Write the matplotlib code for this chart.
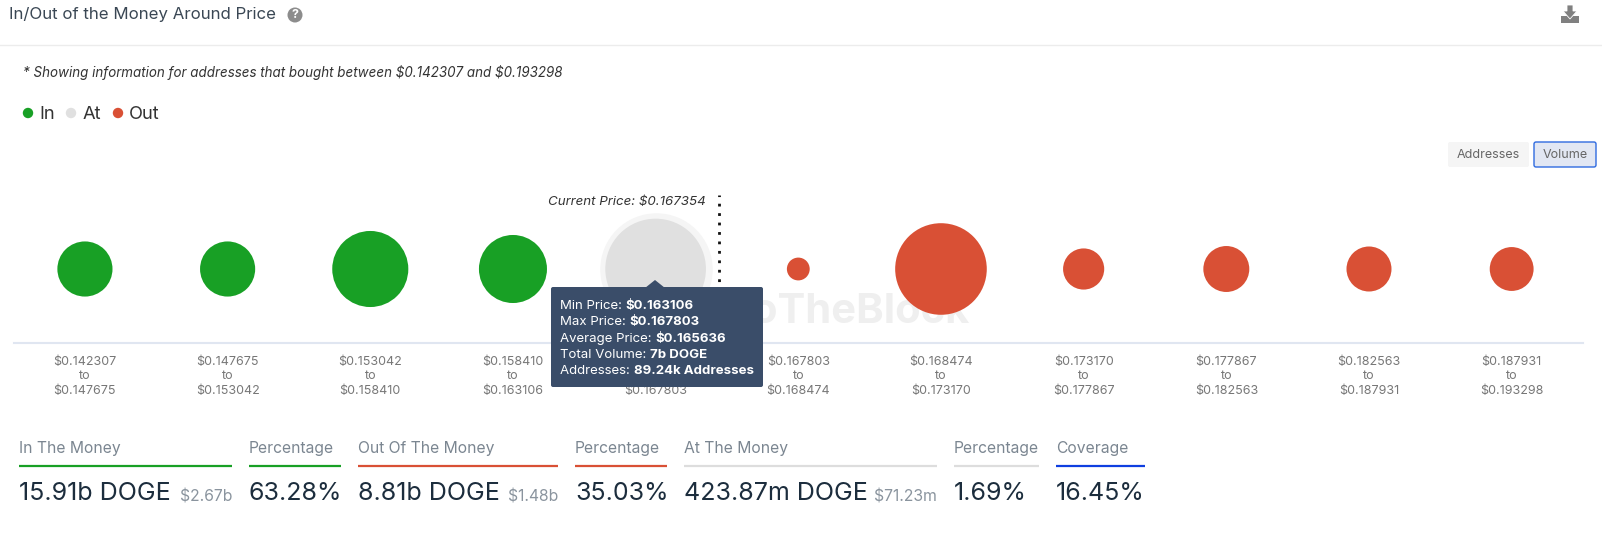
import matplotlib
matplotlib.use('Agg')
import matplotlib.pyplot as plt
from matplotlib.patches import Rectangle, FancyBboxPatch, Polygon, Circle

plt.rcParams['font.family'] = ['Inter', 'DejaVu Sans']

# bubble data, volume in billions of DOGE
low_prices = ['$0.142307', '$0.147675', '$0.153042', '$0.158410', '$0.163106', '$0.167803',
              '$0.168474', '$0.173170', '$0.177867', '$0.182563', '$0.187931']
high_prices = ['$0.147675', '$0.153042', '$0.158410', '$0.163106', '$0.167803', '$0.168474',
               '$0.173170', '$0.177867', '$0.182563', '$0.187931', '$0.193298']
volumes = [2.1, 2.1, 4.0, 3.2, 7.0, 0.36, 5.8, 1.17, 1.46, 1.4, 1.33]
states = ['in', 'in', 'in', 'in', 'at', 'out', 'out', 'out', 'out', 'out', 'out']
current_price_pos = 4.445

state_colors = {'in': '#18a025', 'at': '#e0e0e0', 'out': '#d95035'}

# summary row
summary_labels = ['In The Money', 'Percentage', 'Out Of The Money', 'Percentage',
                  'At The Money', 'Percentage', 'Coverage']
summary_values = ['15.91b DOGE', '63.28%', '8.81b DOGE', '35.03%', '423.87m DOGE', '1.69%', '16.45%']
summary_usd = ['$2.67b', '', '$1.48b', '', '$71.23m', '', '']
summary_colors = ['#18a025', '#18a025', '#d95035', '#d95035', '#dddddd', '#dddddd', '#0f3fe0']
summary_x0 = [19, 249, 358, 575, 684, 954, 1056]
summary_x1 = [232, 341, 558, 667, 937, 1039, 1145]

tooltip_rows = [('Min Price: ', '$0.163106'), ('Max Price: ', '$0.167803'),
                ('Average Price: ', '$0.165636'), ('Total Volume: ', '7b DOGE'),
                ('Addresses: ', '89.24k Addresses')]


def esc(s):
    # plain dollars, not mathtext
    return s.replace('$', r'\$')


W, H = 1602, 535
fig = plt.figure(figsize=(W / 100, H / 100), dpi=100)

# page layer in pixel coordinates
page = fig.add_axes([0, 0, 1, 1], zorder=1)
page.set_xlim(0, W)
page.set_ylim(H, 0)
page.axis('off')
page.patch.set_alpha(0)

# header
page.text(9, 15, 'In/Out of the Money Around Price', fontsize=12.1, color='#3a4754', va='center')
page.add_patch(Circle((295, 15), 7.5, color='#8c8c8c', lw=0))
page.text(295, 15.5, '?', fontsize=9, color='white', weight='bold', ha='center', va='center')
page.plot([0, W], [45, 45], color='#ececec', lw=1)

# download icon
page.add_patch(Rectangle((1561, 16), 18, 7, color='#808080', lw=0))
page.add_patch(Polygon([(1567, 5), (1573, 5), (1573, 11), (1577, 11), (1570, 19), (1563, 11), (1567, 11)],
                       color='#808080', ec='white', lw=0.6))

page.text(23, 72, esc('* Showing information for addresses that bought between $0.142307 and $0.193298'),
          fontsize=9.64, style='italic', color='#333333', va='center')

# legend
for lx, tx, lab, st in [(28, 39, 'In', 'in'), (71, 83, 'At', 'at'), (118, 129, 'Out', 'out')]:
    page.add_patch(Circle((lx, 113), 5.2, color=state_colors[st], lw=0))
    page.text(tx, 114.5, lab, fontsize=13.2, color='#333333', va='center')

# toggle buttons
page.add_patch(FancyBboxPatch((1448, 142), 81, 25, boxstyle='round,pad=0,rounding_size=2', fc='#f5f5f5', ec='none'))
page.text(1488.5, 155, 'Addresses', fontsize=9, color='#666666', ha='center', va='center')
page.add_patch(FancyBboxPatch((1534, 142), 62, 25, boxstyle='round,pad=0,rounding_size=2', fc='#e2e7f3', ec='#2f6be0', lw=1))
page.text(1565, 155, 'Volume', fontsize=9, color='#666666', ha='center', va='center')

# bubble chart
ax = fig.add_axes([13.6 / W, 1 - 343 / H, (1583 - 13.6) / W, (343 - 195) / H], zorder=0)
ax.set_xlim(-0.5, 10.5)
ax.set_ylim(0, 1)
for side in ['top', 'left', 'right']:
    ax.spines[side].set_visible(False)
ax.spines['bottom'].set_color('#e0e6f1')
ax.spines['bottom'].set_linewidth(1.5)
ax.set_yticks([])
ax.set_xticks(range(len(low_prices)))
ax.set_xticklabels([esc(a + '\nto\n' + b) for a, b in zip(low_prices, high_prices)],
                   fontsize=9, color='#777777', linespacing=1.32)
ax.tick_params(axis='x', length=0, pad=9)

xs = list(range(len(volumes)))
sizes = [v * 750 for v in volumes]
colors = [state_colors[s] for s in states]
at = states.index('at')
ax.scatter([at], [0.5], s=[sizes[at] * 1.25], color='#f5f5f5', lw=0, zorder=2)
ax.scatter(xs, [0.5] * len(xs), s=sizes, c=colors, lw=0, zorder=3)
ax.plot([current_price_pos] * 2, [0.35, 1.0], color='#111111', lw=2, ls=(0, (1, 2.4)), zorder=2, clip_on=False)
ax.text(current_price_pos - 0.095, 0.95, esc('Current Price: $0.167354'), fontsize=9.6, style='italic',
        color='#333333', ha='right', va='center')
ax.text(5.25, 0.21, 'IntoTheBlock', fontsize=30, weight='bold', color='#efefef', ha='center', va='center', zorder=1)

# tooltip
page.add_patch(Polygon([(645, 288), (655, 280), (665, 288)], fc='#3a4d69', ec='none', zorder=5))
page.add_patch(FancyBboxPatch((551, 287), 212, 100, boxstyle='round,pad=0,rounding_size=2', fc='#3a4d69', ec='none', zorder=5))
renderer = fig.canvas.get_renderer()
for i, (name, val) in enumerate(tooltip_rows):
    y = 306 + i * 16.3
    t = page.text(560, y, esc(name), fontsize=9.5, color='white', va='center', zorder=6)
    x_end = page.transData.inverted().transform(t.get_window_extent(renderer))[1][0]
    page.text(x_end, y, esc(val), fontsize=9.5, color='white', weight='bold', va='center', zorder=6)

# summary row
for i, lab in enumerate(summary_labels):
    page.text(summary_x0[i], 448.5, lab, fontsize=11.3, color='#7b8691', va='center')
    page.plot([summary_x0[i], summary_x1[i]], [466, 466], color=summary_colors[i], lw=1.6, solid_capstyle='butt')
    page.text(summary_x0[i], 494, summary_values[i], fontsize=18, color='#1c2d3d', va='center')
    if summary_usd[i]:
        page.text(summary_x1[i], 497, esc(summary_usd[i]), fontsize=11.3, color='#8a949e', ha='right', va='center')

fig.savefig('out.png', dpi=100)
